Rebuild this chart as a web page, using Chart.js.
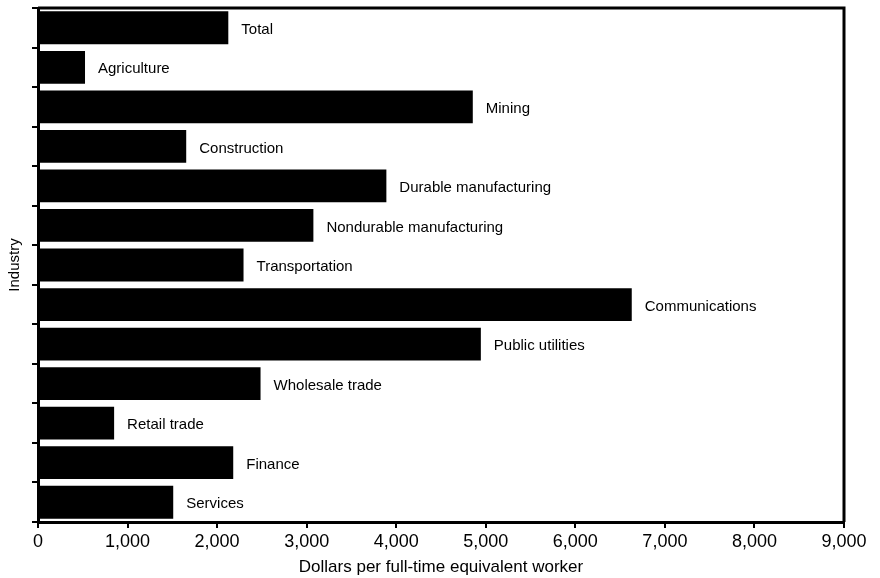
<!DOCTYPE html>
<html>
<head>
<meta charset="utf-8">
<script src="https://cdn.jsdelivr.net/npm/chart.js@4"></script>
<style>
  html, body { margin: 0; padding: 0; background: #fff; }
  #wrap { width: 880px; height: 578px; }
</style>
</head>
<body>
<div id="wrap"><canvas id="chart" width="880" height="578"></canvas></div>
<script>
// Industries (top to bottom) and dollars per full-time equivalent worker
const industries = [
  'Total', 'Agriculture', 'Mining', 'Construction', 'Durable manufacturing',
  'Nondurable manufacturing', 'Transportation', 'Communications', 'Public utilities',
  'Wholesale trade', 'Retail trade', 'Finance', 'Services'
];
const dollarsPerWorker = [2125, 525, 4855, 1655, 3890, 3075, 2295, 6630, 4945, 2485, 850, 2180, 1510];
const xTicks = [0, 1000, 2000, 3000, 4000, 5000, 6000, 7000, 8000, 9000];

const FONT = "'Liberation Sans', Arial, sans-serif";

// labels drawn to the right of each bar
const barLabels = {
  id: 'barLabels',
  afterDatasetsDraw(chart) {
    const ctx = chart.ctx;
    const meta = chart.getDatasetMeta(0);
    ctx.save();
    ctx.fillStyle = '#000';
    ctx.font = '15px ' + FONT;
    ctx.textBaseline = 'middle';
    ctx.textAlign = 'left';
    meta.data.forEach((bar, i) => {
      ctx.fillText(industries[i], bar.x + 13, bar.y + 2);
    });
    ctx.restore();
  }
};

// top and right edges of the frame
const frame = {
  id: 'frame',
  afterDraw(chart) {
    const { left, right, top, bottom } = chart.chartArea;
    const ctx = chart.ctx;
    ctx.save();
    ctx.strokeStyle = '#000';
    ctx.lineWidth = 3;
    ctx.beginPath();
    ctx.moveTo(left, top);
    ctx.lineTo(right, top);
    ctx.lineTo(right, bottom);
    ctx.stroke();
    ctx.restore();
  }
};

new Chart(document.getElementById('chart'), {
  type: 'bar',
  data: {
    labels: industries,
    datasets: [{
      data: dollarsPerWorker,
      backgroundColor: '#000',
      borderWidth: 0,
      barPercentage: 0.83,
      categoryPercentage: 1.0
    }]
  },
  options: {
    indexAxis: 'y',
    responsive: false,
    animation: false,
    layout: { padding: { top: 8, right: 36, left: 6, bottom: 0 } },
    plugins: { legend: { display: false }, tooltip: { enabled: false } },
    scales: {
      x: {
        min: 0,
        max: 9000,
        afterBuildTicks: scale => { scale.ticks = xTicks.map(v => ({ value: v })); },
        afterFit: scale => { scale.height = 56; },
        ticks: {
          color: '#000',
          font: { family: FONT, size: 18 },
          padding: 3,
          maxRotation: 0,
          callback: v => v.toLocaleString('en-US')
        },
        grid: { drawOnChartArea: false, tickLength: 6, color: '#000', lineWidth: 2 },
        border: { color: '#000', width: 3 },
        title: {
          display: true,
          text: 'Dollars per full-time equivalent worker',
          color: '#000',
          font: { family: FONT, size: 17 },
          padding: { top: -6, bottom: 0 }
        }
      },
      y: {
        afterFit: scale => { scale.width = 32; },
        ticks: { display: false },
        grid: { drawOnChartArea: false, tickLength: 6, color: '#000', lineWidth: 2, offset: true },
        border: { color: '#000', width: 3 },
        title: {
          display: true,
          text: 'Industry',
          color: '#000',
          font: { family: FONT, size: 15 },
          padding: 0
        }
      }
    }
  },
  plugins: [barLabels, frame]
});
</script>
</body>
</html>
